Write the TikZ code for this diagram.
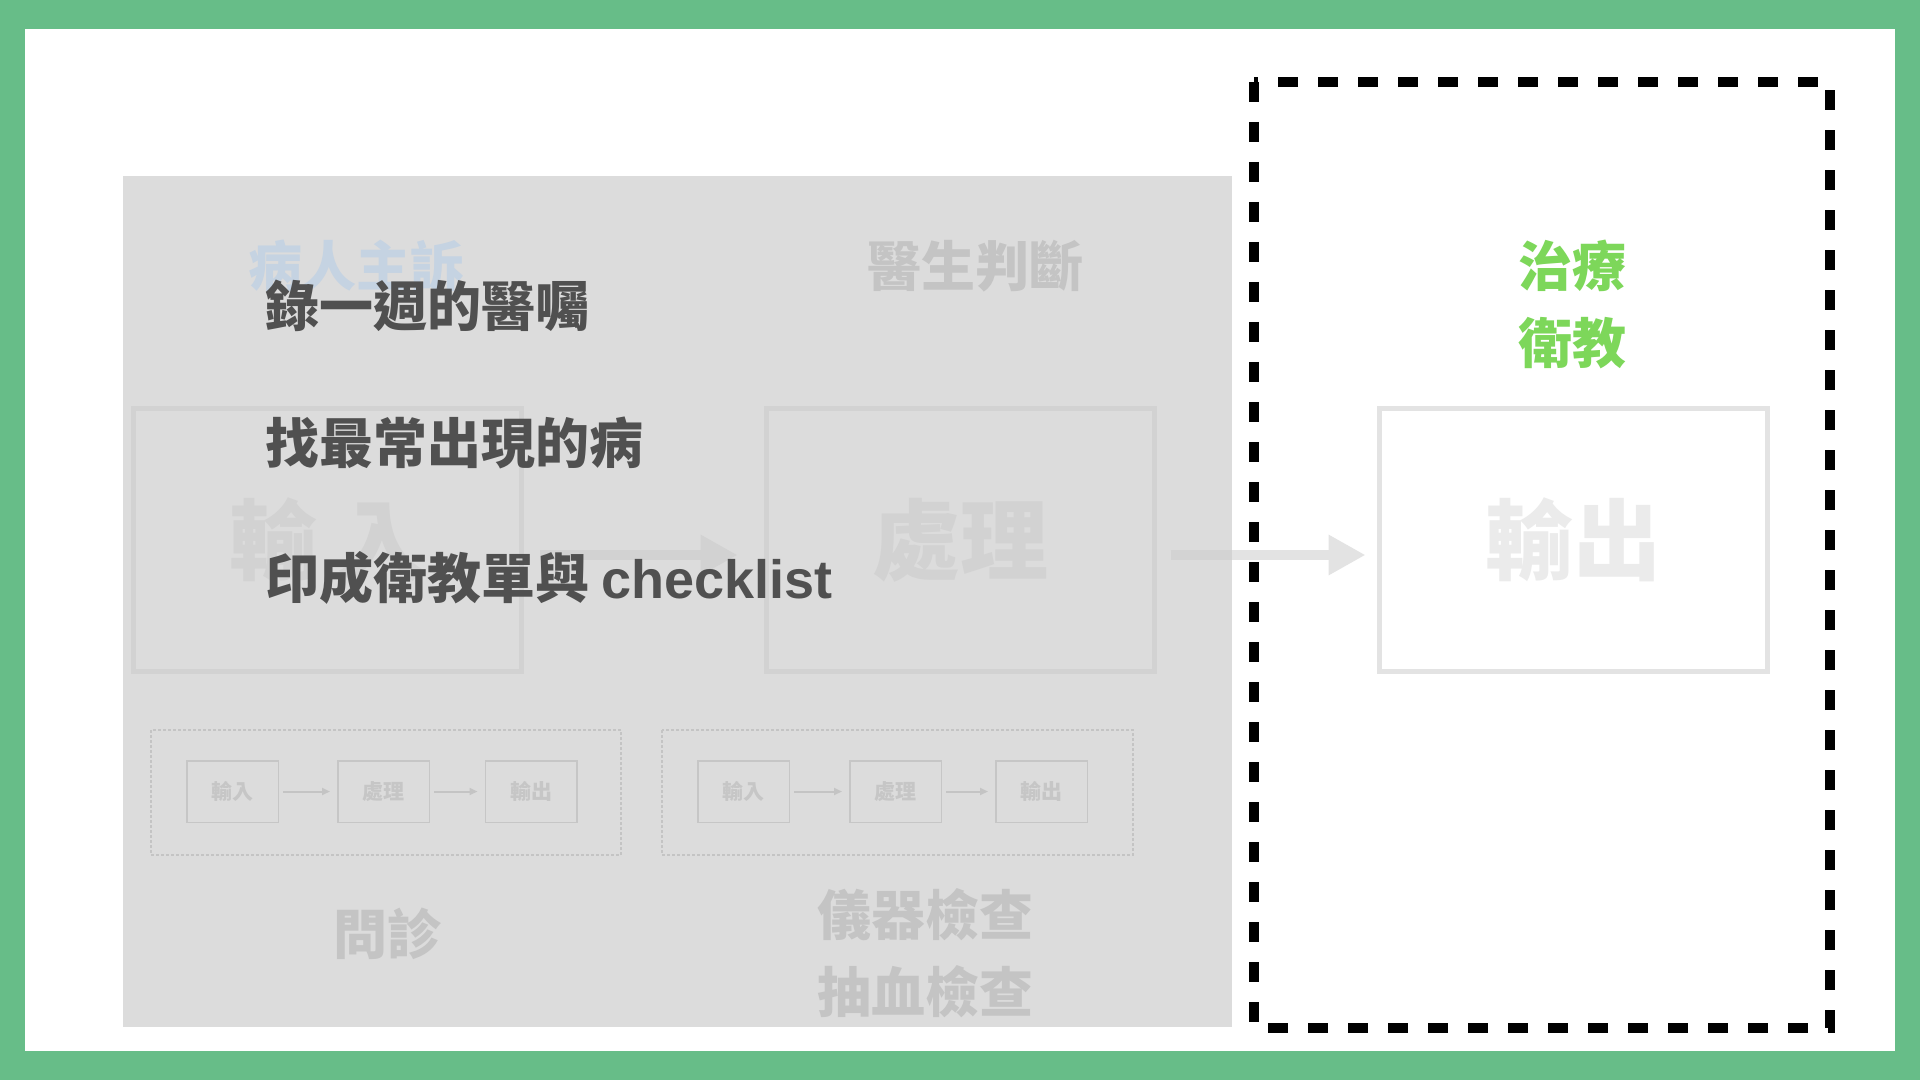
\documentclass[tikz,border=0pt]{standalone}
\usepackage{fontspec}
\setmainfont{Noto Sans CJK TC}
\newfontfamily\latin{Liberation Sans}[UprightFont={* Bold}]
\usetikzlibrary{arrows.meta}

\definecolor{frame}{RGB}{103,189,136}
\definecolor{veil}{RGB}{204,204,204}
\definecolor{ink}{RGB}{80,80,80}
\definecolor{leaf}{RGB}{125,215,90}
\definecolor{mist}{RGB}{197,211,226}
\definecolor{fade}{RGB}{196,196,196}
\definecolor{dim}{RGB}{210,210,210}
\definecolor{pale}{RGB}{227,227,227}
\definecolor{paler}{RGB}{235,235,235}
\definecolor{mini}{RGB}{198,198,198}

\pgfdeclarelayer{back}
\pgfdeclarelayer{shade}
\pgfsetlayers{back,shade,main}

\tikzset{
  note/.style={anchor=base west, inner sep=0pt, text=ink, font=\fontsize{27}{38.5}\selectfont\bfseries},
  title/.style={inner sep=0pt, align=center, font=\fontsize{27}{38.5}\selectfont\bfseries},
  bigbox/.style={draw, line width=2.5pt, minimum width=194pt, minimum height=131.5pt, inner sep=0pt, font=\fontsize{44}{44}\selectfont\bfseries},
  minibox/.style={draw=mini, text=mini, line width=0.75pt, minimum width=45.75pt, minimum height=30.75pt, inner sep=0pt, font=\fontsize{10.5}{10.5}\selectfont\bfseries},
  bigarrow/.style={line width=5pt, -{Triangle[length=18.5pt,width=19pt]}},
  miniarrow/.style={draw=fade, line width=1pt, -{Triangle[length=4pt,width=3.5pt]}},
  dotframe/.style={draw=fade, line width=1pt, dash pattern=on 1.5pt off 1pt},
}

\begin{document}
\begin{tikzpicture}[x=0.5pt, y=-0.5pt]
\useasboundingbox (0,0) rectangle (1920,1080);
\begin{pgfonlayer}{back}
	\fill[frame] (0,0) rectangle (1920,1080);
	\fill[white] (25,29) rectangle (1895,1051);
\end{pgfonlayer}
\begin{pgfonlayer}{shade}
	\fill[veil, fill opacity=0.68] (123,176) rectangle (1232,1027);
\end{pgfonlayer}

	% big flow
	\node[title, text=mist] (patient) at (356,266) {病人主訴};
	\node[title, text=fade] (doctor) at (975,266) {醫生判斷};
	\node[title, text=leaf] (treat) at (1572,304.5) {治療\\衛教};
	\node[bigbox, draw=dim, text=dim] (in) at (327.5,540) {輸 入};
	\node[bigbox, draw=dim, text=dim] (proc) at (960,540) {處理};
	\node[bigbox, draw=pale, text=paler] (out) at (1573,540) {輸出};
	\draw[bigarrow, draw=dim, shorten <=8pt, shorten >=13pt] ([yshift=-7.5pt]in.east) -- ([yshift=-7.5pt]proc.west);
\begin{pgfonlayer}{back}
	\draw[bigarrow, draw=pale, shorten <=7pt, shorten >=5.5pt] ([yshift=-7.5pt]proc.east) -- ([yshift=-7.5pt]out.west);
\end{pgfonlayer}

	% small flows
	\draw[dotframe] (151,730) rectangle (621,855);
	\node[minibox] (in1) at (232.5,791.5) {輸入};
	\node[minibox] (proc1) at (383.5,791.5) {處理};
	\node[minibox] (out1) at (531,791.5) {輸出};
	\draw[miniarrow, shorten <=2pt, shorten >=3.5pt] (in1) -- (proc1);
	\draw[miniarrow, shorten <=2pt, shorten >=3.5pt] (proc1) -- (out1);
	\node[title, text=fade] (consult) at (387,934) {問診};

	\draw[dotframe] (662,730) rectangle (1133,855);
	\node[minibox] (in2) at (743.5,791.5) {輸入};
	\node[minibox] (proc2) at (895.5,791.5) {處理};
	\node[minibox] (out2) at (1041.5,791.5) {輸出};
	\draw[miniarrow, shorten <=2pt, shorten >=3.5pt] (in2) -- (proc2);
	\draw[miniarrow, shorten <=2pt, shorten >=3.5pt] (proc2) -- (out2);
	\node[title, text=fade] (exam) at (925,953.5) {儀器檢查\\抽血檢查};

	% overlaid notes
	\node[note] (record) at (265,327) {錄一週的醫囑};
	\node[note] (find) at (265,463) {找最常出現的病};
	\node[note] (print) at (265,598) {印成衛教單與 {\latin checklist}};

	% dashed output frame
	\draw[black, line width=5pt, dash pattern=on 10pt off 10pt] (1254,82) rectangle (1830,1028);
\end{tikzpicture}
\end{document}
